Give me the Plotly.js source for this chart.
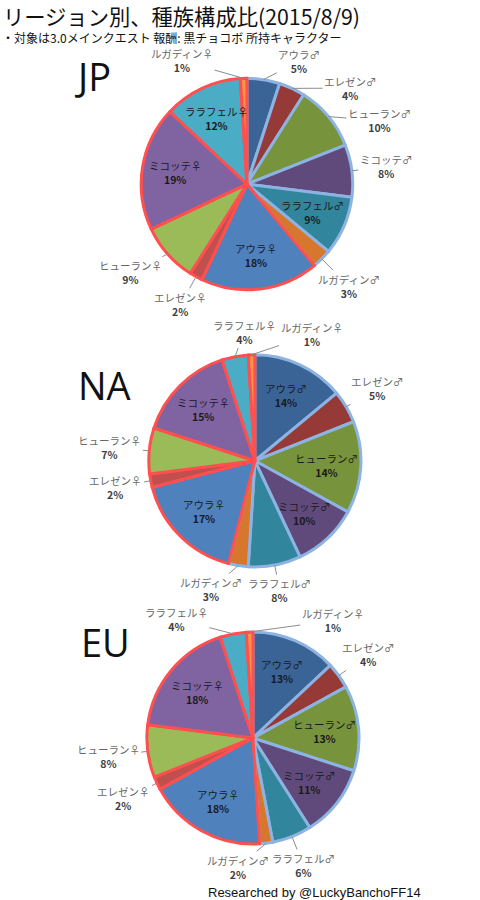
<!DOCTYPE html>
<html>
<head>
<meta charset="utf-8">
<script src="https://cdn.plot.ly/plotly-3.0.1.min.js"></script>
<style>
  html, body { margin: 0; padding: 0; background: #fff; }
  #chart { width: 480px; height: 900px; }
</style>
</head>
<body>
<div id="chart"></div>
<script>
// races in drawing order (clockwise from 12 o'clock)
const races = ["アウラ♂", "エレゼン♂", "ヒューラン♂", "ミコッテ♂", "ララフェル♂", "ルガディン♂",
               "アウラ♀", "エレゼン♀", "ヒューラン♀", "ミコッテ♀", "ララフェル♀", "ルガディン♀"];

// share in percent
const jpShare = [5, 4, 10, 8, 9, 3, 18, 2, 9, 19, 12, 1];
const naShare = [14, 5, 14, 10, 8, 3, 17, 2, 7, 15, 4, 1];
const euShare = [13, 4, 13, 11, 6, 2, 18, 2, 8, 18, 4, 1];

// which labels sit inside the slice
const jpInside = ["ララフェル♂", "アウラ♀", "ミコッテ♀", "ララフェル♀"];
const naInside = ["アウラ♂", "ヒューラン♂", "ミコッテ♂", "アウラ♀", "ミコッテ♀"];
const euInside = ["アウラ♂", "ヒューラン♂", "ミコッテ♂", "アウラ♀", "ミコッテ♀"];

const fillColors = ["#3a6496", "#963a38", "#77933c", "#604a7b", "#31859c", "#d7772e",
                    "#4f81bd", "#c0504d", "#9bbb59", "#8064a2", "#4bacc6", "#f79646"];
const MALE_EDGE = "#8db3e2";
const FEMALE_EDGE = "#ff4f4f";
const edgeColors = races.map(r => r.endsWith("♂") ? MALE_EDGE : FEMALE_EDGE);

const FONT = "'Noto Sans CJK JP', 'Noto Sans', sans-serif";
const W = 480, H = 900;
const LABEL_SIZE = 10.5;

const jpDomain = { x: [0.294, 0.735], y: [0.678, 0.913] };
const naDomain = { x: [0.310, 0.752], y: [0.370, 0.606] };
const euDomain = { x: [0.306, 0.748], y: [0.062, 0.298] };

function pieTrace(values, domain) {
    return {
        type: 'pie',
        labels: races,
        values: values,
        sort: false,
        direction: 'clockwise',
        rotation: 0,
        domain: domain,
        marker: { colors: fillColors, line: { color: edgeColors, width: 3 } },
        textinfo: 'none',
        hoverinfo: 'label+percent',
        showlegend: false
    };
}

// boxes (pixels, y down) that data labels must avoid
const placed = [
    { x0: 0, x1: 365, y0: 0, y1: 46 },      // title + subtitle
    { x0: 68, x1: 118, y0: 62, y1: 100 },   // JP
    { x0: 74, x1: 134, y0: 368, y1: 402 },  // NA
    { x0: 80, x1: 132, y0: 627, y1: 661 },  // EU
    { x0: 205, x1: 430, y0: 884, y1: 900 }  // footer
];
function hits(b) {
    return placed.some(p => b.x0 < p.x1 + 2 && b.x1 > p.x0 - 2 && b.y0 < p.y1 + 1 && b.y1 > p.y0 - 1);
}

// data labels as annotations, placed from the slice angles
function sliceLabels(values, inside, domain) {
    const total = values.reduce((a, b) => a + b, 0);
    const cx = (domain.x[0] + domain.x[1]) / 2 * W;
    const cy = H - (domain.y[0] + domain.y[1]) / 2 * H;
    const r = Math.min((domain.x[1] - domain.x[0]) * W, (domain.y[1] - domain.y[0]) * H) / 2;
    const out = [];
    const outside = [];
    let cum = 0;
    values.forEach((v, i) => {
        const theta = 2 * Math.PI * (cum + v / 2) / total;
        cum += v;
        const name = races[i];
        if (inside.includes(name)) {
            out.push({
                text: name + '<br><b>' + v + '%</b>',
                xref: 'paper', yref: 'paper',
                x: (cx + 0.68 * r * Math.sin(theta)) / W,
                y: 1 - (cy - 0.68 * r * Math.cos(theta)) / H,
                xanchor: 'center', yanchor: 'middle', showarrow: false,
                font: { family: FONT, size: LABEL_SIZE, color: '#1a1a1a' }
            });
        } else {
            outside.push({ name, v, theta });
        }
    });

    const boxAt = (a, w, h) => {
        const sx = Math.sin(a), sy = Math.cos(a);
        const d = r + 7 + Math.abs(sx) * w / 2 + Math.abs(sy) * h / 2;
        const x = cx + d * sx, y = cy - d * sy;
        return { x, y, x0: x - w / 2, x1: x + w / 2, y0: y - h / 2, y1: y + h / 2 };
    };

    // right half first, then left half from the bottom up;
    // a label that collides slides to the nearest free angle (ties go clockwise)
    const right = outside.filter(o => o.theta <= Math.PI).sort((a, b) => a.theta - b.theta);
    const left = outside.filter(o => o.theta > Math.PI).sort((a, b) => a.theta - b.theta);
    right.concat(left).forEach(o => {
        const w = o.name.length * LABEL_SIZE;
        const h = 27;
        let b = boxAt(o.theta, w, h);
        for (let k = 1; k < 80 && hits(b); k++) {
            const step = k * Math.PI / 90;
            b = boxAt(o.theta + step, w, h);
            if (hits(b)) {
                const alt = boxAt(o.theta - step, w, h);
                if (!hits(alt)) b = alt;
            }
        }
        placed.push(b);
        const px = cx + r * Math.sin(o.theta), py = cy - r * Math.cos(o.theta);
        out.push({
            text: '<span style="color:#666">' + o.name + '</span><br><b>' + o.v + '%</b>',
            xref: 'paper', yref: 'paper',
            x: px / W, y: 1 - py / H,
            ax: b.x - px, ay: b.y - py,
            xanchor: 'center', yanchor: 'middle',
            showarrow: true, arrowhead: 0, arrowwidth: 1, arrowcolor: '#8c8c8c', standoff: 0,
            font: { family: FONT, size: LABEL_SIZE, color: '#404040' }
        });
    });
    return out;
}

const data = [
    pieTrace(jpShare, jpDomain),
    pieTrace(naShare, naDomain),
    pieTrace(euShare, euDomain)
];

const regionFont = { family: "'Open Sans', 'Noto Sans', sans-serif", size: 38, color: '#111' };

const layout = {
    width: W,
    height: H,
    margin: { t: 0, b: 0, l: 0, r: 0 },
    paper_bgcolor: '#fff',
    font: { family: FONT },
    title: {
        text: 'リージョン別、種族構成比(2015/8/9)',
        x: 0.006, xanchor: 'left', y: 0.981, yanchor: 'middle',
        font: { family: FONT, size: 21.3, color: '#111' }
    },
    annotations: [
        { text: '・対象は3.0メインクエスト 報酬: 黒チョコボ 所持キャラクター', xref: 'paper', yref: 'paper',
          x: 0.0, y: 0.958, xanchor: 'left', yanchor: 'middle', showarrow: false,
          font: { family: FONT, size: 12, color: '#111' } },
        { text: 'JP', xref: 'paper', yref: 'paper', x: 0.192, y: 0.915, xanchor: 'center', yanchor: 'middle',
          showarrow: false, font: regionFont },
        { text: 'NA', xref: 'paper', yref: 'paper', x: 0.217, y: 0.572, xanchor: 'center', yanchor: 'middle',
          showarrow: false, font: regionFont },
        { text: 'EU', xref: 'paper', yref: 'paper', x: 0.219, y: 0.287, xanchor: 'center', yanchor: 'middle',
          showarrow: false, font: regionFont },
        { text: 'Researched by @LuckyBanchoFF14', xref: 'paper', yref: 'paper', x: 0.882, y: 0.008,
          xanchor: 'right', yanchor: 'middle', showarrow: false,
          font: { family: "'Liberation Sans', Arial, sans-serif", size: 13, color: '#111' } }
    ].concat(
        sliceLabels(jpShare, jpInside, jpDomain),
        sliceLabels(naShare, naInside, naDomain),
        sliceLabels(euShare, euInside, euDomain)
    )
};

Plotly.newPlot('chart', data, layout, { displayModeBar: false, staticPlot: true });
</script>
</body>
</html>
